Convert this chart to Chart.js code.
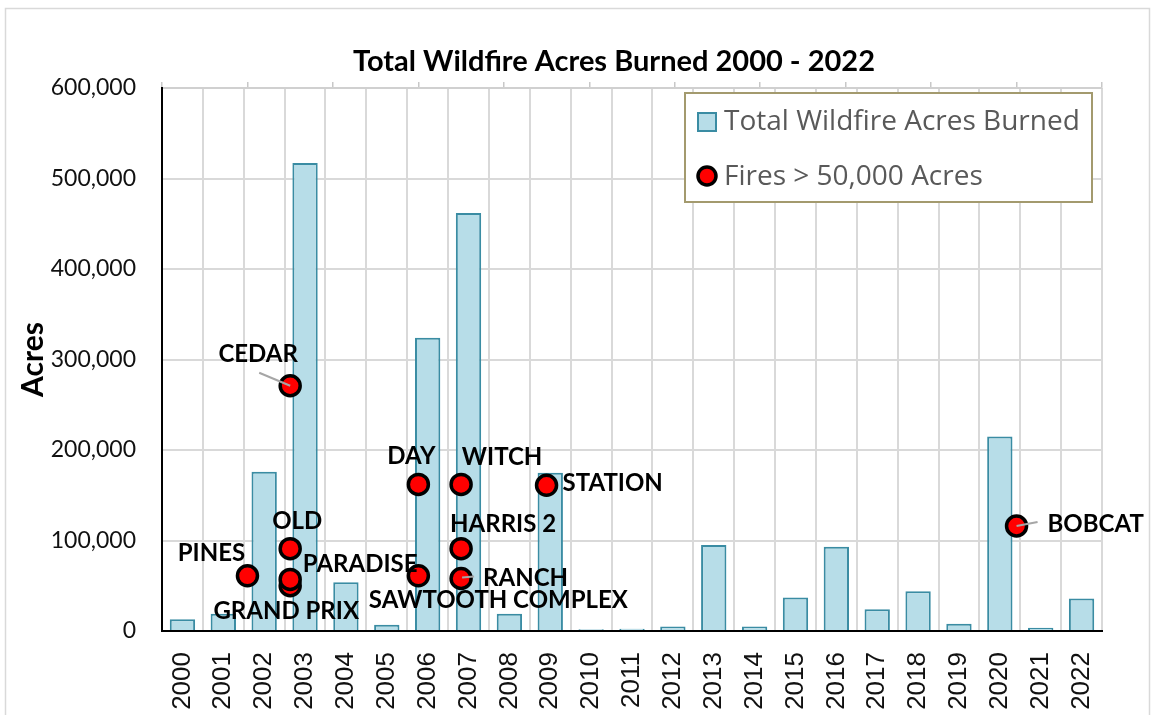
<!DOCTYPE html>
<html><head><meta charset="utf-8">
<script src="https://cdn.jsdelivr.net/npm/chart.js@4.4.0/dist/chart.umd.min.js"></script>
<style>html,body{margin:0;padding:0;background:#fff}</style>
</head><body>
<canvas id="c" width="1152" height="715"></canvas>
<script>
const years = ['2000','2001','2002','2003','2004','2005','2006','2007','2008','2009','2010','2011','2012','2013','2014','2015','2016','2017','2018','2019','2020','2021','2022'];
const acresBurned = [13000, 19000, 176000, 517000, 54000, 7000, 324000, 462000, 19000, 175000, 2000, 2500, 5000, 95000, 5000, 37000, 93000, 24000, 44000, 8000, 215000, 3500, 36000];
const fireNames = ['PINES','CEDAR','OLD','GRAND PRIX','PARADISE','DAY','SAWTOOTH COMPLEX','WITCH','HARRIS 2','RANCH','STATION','BOBCAT'];
const fireYears = [2002, 2003, 2003, 2003, 2003, 2006, 2006, 2007, 2007, 2007, 2009, 2020];
const fireAcres = [61000, 271000, 91000, 50000, 57000, 162000, 61000, 162000, 91000, 58000, 161000, 116000];
const yTicks = [0, 100000, 200000, 300000, 400000, 500000, 600000];

// label placement (layout only): [dx, dy, align]
const labelPlace = [[-36,-23,'center'],[-32,-32,'center'],[7,-28,'center'],[-4,25,'center'],[70,-16,'center'],[-7,-29,'center'],[80,24,'center'],[41,-28,'center'],[42,-25,'center'],[22,-1,'left'],[16,-3,'left'],[31,-3,'left']];
const leaders = {1:[-31,-13,0,0], 9:[1,-1,13,-2], 11:[0,0,21,-4]};

const BAR_FILL = '#b7dde8', BAR_EDGE = '#3a8ca3', GRID = '#d9d9d9';

const framePlugin = {
  id: 'frame',
  beforeDraw(chart) {
    const ctx = chart.ctx;
    ctx.save();
    ctx.fillStyle = '#fff';
    ctx.fillRect(0, 0, chart.width, chart.height);
    ctx.strokeStyle = '#d9d9d9';
    ctx.lineWidth = 1.5;
    ctx.strokeRect(5.5, 8.5, 1144, 720);
    ctx.restore();
  }
};

const titlePlugin = {
  id: 'ttl',
  afterDraw(chart) {
    const ctx = chart.ctx;
    ctx.save();
    ctx.font = 'bold 29px Lato';
    ctx.fillStyle = '#000';
    ctx.textAlign = 'center';
    ctx.textBaseline = 'alphabetic';
    ctx.fillText('Total Wildfire Acres Burned 2000 - 2022', 614, 71);
    ctx.restore();
  }
};

const labelPlugin = {
  id: 'lbls',
  afterDatasetsDraw(chart) {
    const ctx = chart.ctx;
    const meta = chart.getDatasetMeta(1);
    ctx.save();
    ctx.strokeStyle = '#a6a6a6';
    ctx.lineWidth = 2;
    Object.keys(leaders).forEach(k => {
      const p = meta.data[k]; const l = leaders[k];
      ctx.beginPath();
      ctx.moveTo(p.x + l[0], p.y + l[1]);
      ctx.lineTo(p.x + l[2], p.y + l[3]);
      ctx.stroke();
    });
    ctx.font = 'bold 24px Lato';
    ctx.fillStyle = '#000';
    ctx.textBaseline = 'alphabetic';
    meta.data.forEach((p, i) => {
      const pl = labelPlace[i];
      ctx.textAlign = pl[2];
      ctx.fillText(fireNames[i], p.x + pl[0], p.y + pl[1] + 8.6);
    });
    ctx.restore();
  }
};

const legendPlugin = {
  id: 'lgd',
  afterDraw(chart) {
    const ctx = chart.ctx;
    const ds = chart.data.datasets;
    ctx.save();
    ctx.fillStyle = '#fff';
    ctx.fillRect(685, 93, 407, 109);
    ctx.strokeStyle = '#a39a6e';
    ctx.lineWidth = 2;
    ctx.strokeRect(685, 93, 407, 109);
    ctx.fillStyle = ds[0].backgroundColor;
    ctx.fillRect(698, 113, 18, 18);
    ctx.strokeStyle = ds[0].borderColor;
    ctx.lineWidth = 2;
    ctx.strokeRect(698, 113, 18, 18);
    ctx.beginPath();
    ctx.arc(707, 176, 9, 0, Math.PI * 2);
    ctx.fillStyle = ds[1].backgroundColor;
    ctx.fill();
    ctx.lineWidth = 3.5;
    ctx.strokeStyle = ds[1].borderColor;
    ctx.stroke();
    ctx.font = '28px "Open Sans"';
    ctx.fillStyle = '#595959';
    ctx.textAlign = 'left';
    ctx.textBaseline = 'middle';
    ctx.fillText(ds[0].label, 724, 122);
    ctx.fillText(ds[1].label, 724, 177);
    ctx.restore();
  }
};

new Chart(document.getElementById('c'), {
  type: 'bar',
  data: {
    labels: years,
    datasets: [
      {
        label: 'Total Wildfire Acres Burned',
        data: acresBurned,
        backgroundColor: BAR_FILL,
        borderColor: BAR_EDGE,
        borderWidth: 2,
        barPercentage: 0.62,
        categoryPercentage: 1.0,
        grouped: false,
        order: 2,
        xAxisID: 'x',
        yAxisID: 'y'
      },
      {
        type: 'scatter',
        label: 'Fires > 50,000 Acres',
        data: fireYears.map((yr, i) => ({x: yr, y: fireAcres[i]})),
        backgroundColor: '#ff0000',
        borderColor: '#000000',
        borderWidth: 3.5,
        pointRadius: 10,
        pointHoverRadius: 10,
        order: 1,
        xAxisID: 'x2',
        yAxisID: 'y'
      }
    ]
  },
  options: {
    responsive: false,
    devicePixelRatio: 1,
    animation: false,
    layout: {padding: {left: 0, right: 50, top: 82, bottom: 0}},
    plugins: {legend: {display: false}, tooltip: {enabled: false}, title: {display: false}},
    scales: {
      x: {
        type: 'category',
        position: 'bottom',
        offset: true,
        grid: {display: true, offset: true, color: GRID, lineWidth: 2, drawTicks: false},
        border: {display: true, color: '#000', width: 2},
        ticks: {minRotation: 90, maxRotation: 90, padding: 21, color: '#111', font: {family: 'Liberation Sans', size: 26}, autoSkip: false},
        afterFit(s) { s.height = 84; }
      },
      x2: {
        type: 'linear',
        position: 'top',
        offset: false,
        min: 2000, max: 2022,
        ticks: {display: false, stepSize: 2},
        grid: {display: true, offset: false, drawOnChartArea: false, drawTicks: true, tickLength: 6, color: '#c8c8c8', lineWidth: 1.5},
        border: {display: true, color: '#d0d0d0', width: 2},
        afterFit(s) { s.height = 6; }
      },
      y: {
        type: 'linear',
        min: 0, max: 600000,
        afterBuildTicks(s) { s.ticks = yTicks.map(v => ({value: v})); },
        grid: {color: GRID, lineWidth: 2, drawTicks: false},
        border: {display: true, color: '#000', width: 2},
        ticks: {padding: 26, color: '#111', font: {family: 'Lato', size: 23}, callback: v => v.toLocaleString('en-US')},
        title: {display: true, text: 'Acres', color: '#000', font: {family: 'Lato', size: 30, weight: 'bold'}, padding: {top: 15, bottom: 0}},
        afterFit(s) { s.width = 162; }
      }
    }
  },
  plugins: [framePlugin, titlePlugin, labelPlugin, legendPlugin]
});
</script>
</body></html>
